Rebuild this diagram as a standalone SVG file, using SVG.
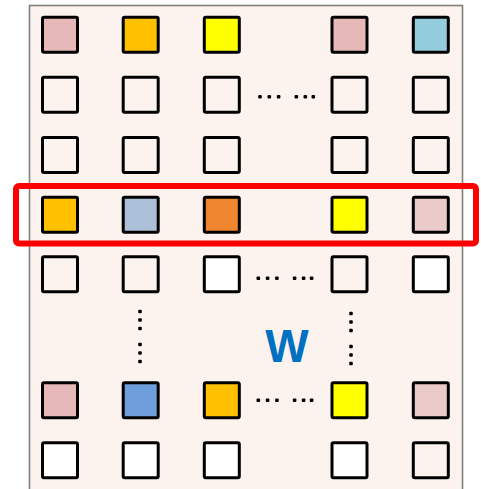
<svg xmlns="http://www.w3.org/2000/svg" width="481" height="489" viewBox="0 0 481 489">
  <defs>
    <style>
      .cell { stroke: #000; stroke-width: 3; }
      .empty { fill: none; }
      .white { fill: #ffffff; }
      .pink { fill: #e6b9b8; }
      .pale { fill: #ebcbca; }
      .gold { fill: #ffc000; }
      .yellow { fill: #ffff00; }
      .cyan { fill: #93cddd; }
      .steel { fill: #adc0da; }
      .orange { fill: #f0852f; }
      .blue { fill: #6e9edc; }
      .dot { fill: #000; }
      .label { font-family: "Liberation Sans", Arial, sans-serif; font-weight: bold; font-size: 46px; fill: #0070c0; }
    </style>
    <rect id="sq" x="-17.5" y="-17.5" width="35" height="35" rx="1.5"/>
    <g id="hdots">
      <rect x="-1.8" y="-1.8" width="3.6" height="3.6" rx="1"/>
      <rect x="7.5" y="-1.8" width="3.6" height="3.6" rx="1"/>
      <rect x="16.8" y="-1.8" width="3.6" height="3.6" rx="1"/>
      <rect x="34.5" y="-1.8" width="3.6" height="3.6" rx="1"/>
      <rect x="43.5" y="-1.8" width="3.6" height="3.6" rx="1"/>
      <rect x="51.5" y="-1.8" width="3.6" height="3.6" rx="1"/>
    </g>
    <g id="vdots">
      <rect x="-1.8" y="-1.8" width="3.6" height="3.6" rx="1"/>
      <rect x="-1.8" y="6.7" width="3.6" height="3.6" rx="1"/>
      <rect x="-1.8" y="15.2" width="3.6" height="3.6" rx="1"/>
      <rect x="-1.8" y="31.2" width="3.6" height="3.6" rx="1"/>
      <rect x="-1.8" y="39.7" width="3.6" height="3.6" rx="1"/>
      <rect x="-1.8" y="48.2" width="3.6" height="3.6" rx="1"/>
    </g>
  </defs>

  <!-- matrix panel -->
  <rect id="panel" x="29.5" y="5.5" width="433" height="500" fill="#fdf3ee" stroke="#808080" stroke-width="1.6"/>

  <!-- row 1 -->
  <g id="row1" class="cell">
    <use href="#sq" class="pink" x="60" y="34.7"/>
    <use href="#sq" class="gold" x="140.7" y="34.7"/>
    <use href="#sq" class="yellow" x="221.8" y="34.7"/>
    <use href="#sq" class="pink" x="349.5" y="34.7"/>
    <use href="#sq" class="cyan" x="430.8" y="34.7"/>
  </g>

  <!-- row 2 -->
  <g id="row2" class="cell">
    <use href="#sq" class="empty" x="60" y="94.8"/>
    <use href="#sq" class="empty" x="140.7" y="94.8"/>
    <use href="#sq" class="empty" x="221.8" y="94.8"/>
    <use href="#sq" class="empty" x="349.5" y="94.8"/>
    <use href="#sq" class="empty" x="430.8" y="94.8"/>
  </g>
  <use href="#hdots" class="dot" x="260" y="96.8"/>

  <!-- row 3 -->
  <g id="row3" class="cell">
    <use href="#sq" class="empty" x="60" y="155"/>
    <use href="#sq" class="empty" x="140.7" y="155"/>
    <use href="#sq" class="empty" x="221.8" y="155"/>
    <use href="#sq" class="empty" x="349.5" y="155"/>
    <use href="#sq" class="empty" x="430.8" y="155"/>
  </g>

  <!-- row 4 (highlighted) -->
  <g id="row4" class="cell">
    <use href="#sq" class="gold" x="60" y="214.7"/>
    <use href="#sq" class="steel" x="140.7" y="214.7"/>
    <use href="#sq" class="orange" x="221.8" y="214.7"/>
    <use href="#sq" class="yellow" x="349.5" y="214.7"/>
    <use href="#sq" class="pale" x="430.8" y="214.7"/>
  </g>

  <!-- row 5 -->
  <g id="row5" class="cell">
    <use href="#sq" class="empty" x="60" y="274.2"/>
    <use href="#sq" class="empty" x="140.7" y="274.2"/>
    <use href="#sq" class="white" x="221.8" y="274.2"/>
    <use href="#sq" class="empty" x="349.5" y="274.2"/>
    <use href="#sq" class="white" x="430.8" y="274.2"/>
  </g>
  <use href="#hdots" class="dot" x="258.3" y="278.3"/>

  <!-- vertical ellipses -->
  <use href="#vdots" class="dot" x="140" y="311.5"/>
  <use href="#vdots" class="dot" x="351" y="313.5"/>

  <text class="label" x="287" y="361.5" text-anchor="middle">W</text>

  <!-- row 7 -->
  <g id="row7" class="cell">
    <use href="#sq" class="pink" x="60" y="400.3"/>
    <use href="#sq" class="blue" x="140.7" y="400.3"/>
    <use href="#sq" class="gold" x="221.8" y="400.3"/>
    <use href="#sq" class="yellow" x="349.5" y="400.3"/>
    <use href="#sq" class="pale" x="430.8" y="400.3"/>
  </g>
  <use href="#hdots" class="dot" x="258.3" y="400.3"/>

  <!-- row 8 -->
  <g id="row8" class="cell">
    <use href="#sq" class="white" x="60" y="460.3"/>
    <use href="#sq" class="white" x="140.7" y="460.3"/>
    <use href="#sq" class="white" x="221.8" y="460.3"/>
    <use href="#sq" class="white" x="349.5" y="460.3"/>
    <use href="#sq" class="empty" x="430.8" y="460.3"/>
  </g>

  <!-- highlight frame around row 4 -->
  <rect id="highlight" x="16" y="186" width="460" height="57.5" rx="3" fill="none" stroke="#ff0000" stroke-width="6"/>
</svg>
